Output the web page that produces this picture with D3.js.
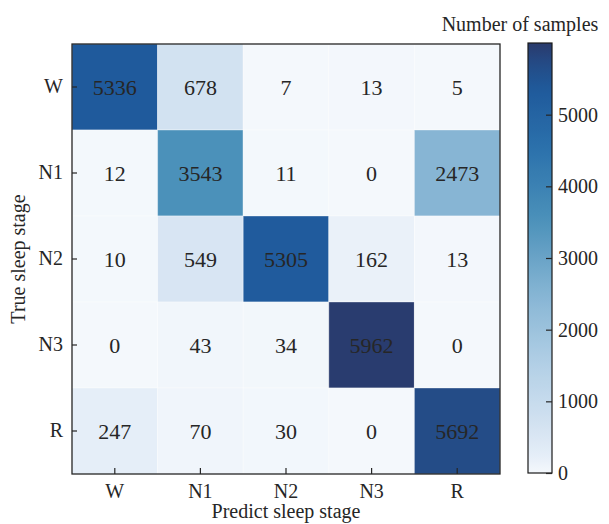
<!DOCTYPE html>
<html>
<head>
<meta charset="utf-8">
<script src="https://cdn.jsdelivr.net/npm/d3@7"></script>
<style>
  html, body { margin: 0; padding: 0; background: #fff; }
  svg, svg text { font-family: "Liberation Serif", "Times New Roman", Times, "DejaVu Serif", serif !important; }
</style>
</head>
<body>
<svg id="chart" width="609" height="524"></svg>
<script>
// Confusion matrix of sleep-stage classification (rows: true, columns: predicted)
const stages = ["W", "N1", "N2", "N3", "R"];
const rowW  = [5336, 678, 7, 13, 5];
const rowN1 = [12, 3543, 11, 0, 2473];
const rowN2 = [10, 549, 5305, 162, 13];
const rowN3 = [0, 43, 34, 5962, 0];
const rowR  = [247, 70, 30, 0, 5692];
const rows = [rowW, rowN1, rowN2, rowN3, rowR];
const colorbarTicks = [0, 1000, 2000, 3000, 4000, 5000];
const colorMax = 6000;

// Blues-like ramp
const rampT = [0, 0.04, 0.11, 0.25, 0.415, 0.594, 0.75, 0.89, 0.955, 1];
const rampC = ["#f4f8fc", "#e5eef8", "#d3e2f1", "#b3d0e6", "#86b5d4", "#4a90b9",
               "#2c72ac", "#1f5a9c", "#244a85", "#2a3a6b"];
const color = d3.scaleLinear()
  .domain(rampT.map(t => t * colorMax))
  .range(rampC)
  .interpolate(d3.interpolateRgb)
  .clamp(true);

const svg = d3.select("#chart");
const plot = { left: 72, top: 44, right: 500, bottom: 474 };

const x = d3.scaleBand().domain(stages).range([plot.left, plot.right]);
const y = d3.scaleBand().domain(stages).range([plot.top, plot.bottom]);

const cells = [];
rows.forEach((r, i) => r.forEach((v, j) => cells.push({ t: stages[i], p: stages[j], v })));

const g = svg.append("g");
g.selectAll("rect.cell").data(cells).join("rect")
  .attr("class", "cell")
  .attr("x", d => x(d.p))
  .attr("y", d => y(d.t))
  .attr("width", x.bandwidth())
  .attr("height", y.bandwidth())
  .attr("fill", d => color(d.v))
  .attr("stroke", "rgba(255,255,255,0.35)")
  .attr("stroke-width", 1);

g.selectAll("text.val").data(cells).join("text")
  .attr("class", "val")
  .attr("x", d => x(d.p) + x.bandwidth() / 2)
  .attr("y", d => y(d.t) + y.bandwidth() / 2)
  .attr("text-anchor", "middle")
  .attr("dominant-baseline", "central")
  .attr("font-size", 22)
  .attr("fill", "#262626")
  .text(d => d.v);

// frame
svg.append("rect")
  .attr("x", plot.left).attr("y", plot.top)
  .attr("width", plot.right - plot.left).attr("height", plot.bottom - plot.top)
  .attr("fill", "none").attr("stroke", "#262626").attr("stroke-width", 1.3);

// axes with inward ticks
const xAxis = d3.axisBottom(x).tickSize(-6).tickPadding(14);
const yAxis = d3.axisLeft(y).tickSize(-5).tickPadding(9);
const gx = svg.append("g").attr("transform", `translate(0,${plot.bottom})`).call(xAxis);
const gy = svg.append("g").attr("transform", `translate(${plot.left},0)`).call(yAxis);
[gx, gy].forEach(a => {
  a.select(".domain").remove();
  a.selectAll("line").attr("stroke", "#262626").attr("stroke-width", 1.2);
  a.selectAll("text").attr("font-size", 20).attr("fill", "#262626");
});
gx.selectAll("text").attr("dy", "0.71em").attr("y", 10);

svg.append("text")
  .attr("x", (plot.left + plot.right) / 2).attr("y", 518)
  .attr("text-anchor", "middle").attr("font-size", 20).attr("fill", "#262626")
  .text("Predict sleep stage");

svg.append("text")
  .attr("transform", `translate(25,${(plot.top + plot.bottom) / 2}) rotate(-90)`)
  .attr("text-anchor", "middle").attr("font-size", 20).attr("fill", "#262626")
  .text("True sleep stage");

// colorbar
const cb = { x: 528, w: 24, top: 43, bottom: 473 };
const cbScale = d3.scaleLinear().domain([0, colorMax]).range([cb.bottom, cb.top]);
const grad = svg.append("defs").append("linearGradient")
  .attr("id", "cbgrad").attr("x1", 0).attr("y1", 1).attr("x2", 0).attr("y2", 0);
d3.range(0, 1.0001, 0.02).forEach(t => {
  grad.append("stop").attr("offset", t).attr("stop-color", color(t * colorMax));
});
svg.append("rect")
  .attr("x", cb.x).attr("y", cb.top).attr("width", cb.w).attr("height", cb.bottom - cb.top)
  .attr("fill", "url(#cbgrad)").attr("stroke", "#1a1a1a").attr("stroke-width", 1.2);

const cbAxis = d3.axisRight(cbScale).tickValues(colorbarTicks).tickFormat(d3.format("d"))
  .tickSize(-6).tickPadding(6);
const gc = svg.append("g").attr("transform", `translate(${cb.x + cb.w},0)`).call(cbAxis);
gc.select(".domain").remove();
gc.selectAll("line").attr("stroke", "#262626").attr("stroke-width", 1.2);
gc.selectAll("text").attr("font-size", 20).attr("fill", "#262626");

svg.append("text")
  .attr("x", 520).attr("y", 31)
  .attr("text-anchor", "middle").attr("font-size", 20).attr("fill", "#262626")
  .text("Number of samples");
</script>
</body>
</html>
